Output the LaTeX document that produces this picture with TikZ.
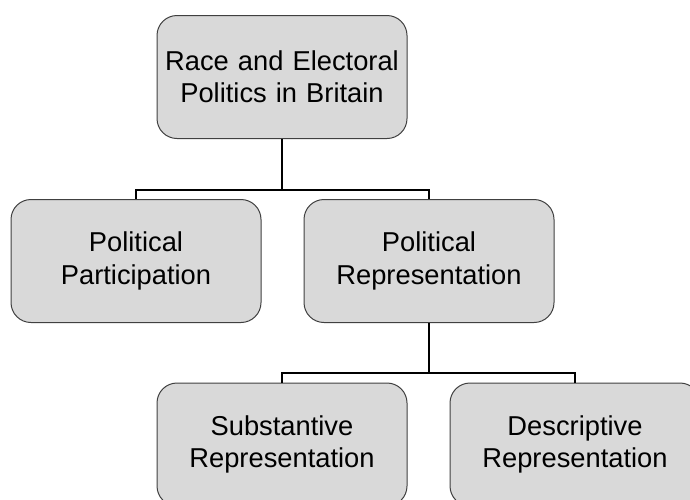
\documentclass[tikz,border=0pt]{standalone}
\usepackage{fontspec}
\setmainfont{Liberation Sans}
\usetikzlibrary{calc}
\definecolor{boxfill}{RGB}{217,217,217}
\definecolor{boxline}{RGB}{64,64,64}
\tikzset{
  topicbox/.style={draw=boxline, fill=boxfill, line width=1pt,
    rounded corners=20pt, minimum width=250pt, minimum height=123pt,
    text width=240pt, inner sep=5pt, align=center,
    font=\fontsize{27.3pt}{32.3pt}\selectfont},
  branch/.style={line width=2.6pt, black}
}
\begin{document}
\begin{tikzpicture}[x=1pt, y=-1pt]
  \useasboundingbox (0,0) rectangle (690,499);
  \clip (0,0) rectangle (690,499);
  \node[topicbox] (race) at (282,77) {Race and Electoral\\Politics in Britain};
  \node[topicbox] (part) at (136,261) {Political\\Participation};
  \node[topicbox] (repr) at (429,261) {Political\\Representation};
  \node[topicbox] (subst) at (282,444.5) {Substantive\\Representation};
  \node[topicbox] (descr) at (575,444.5) {Descriptive\\Representation};
  % joints of the tree
  \coordinate (j1) at (282,190);
  \coordinate (j2) at (429,373);
  \begin{scope}[branch]
    \draw (race.south) -- (j1) -| (part.north);
    \draw (j1) -| (repr.north);
    \draw (repr.south) -- (j2) -| (subst.north);
    \draw (j2) -| (descr.north);
  \end{scope}
\end{tikzpicture}
\end{document}
